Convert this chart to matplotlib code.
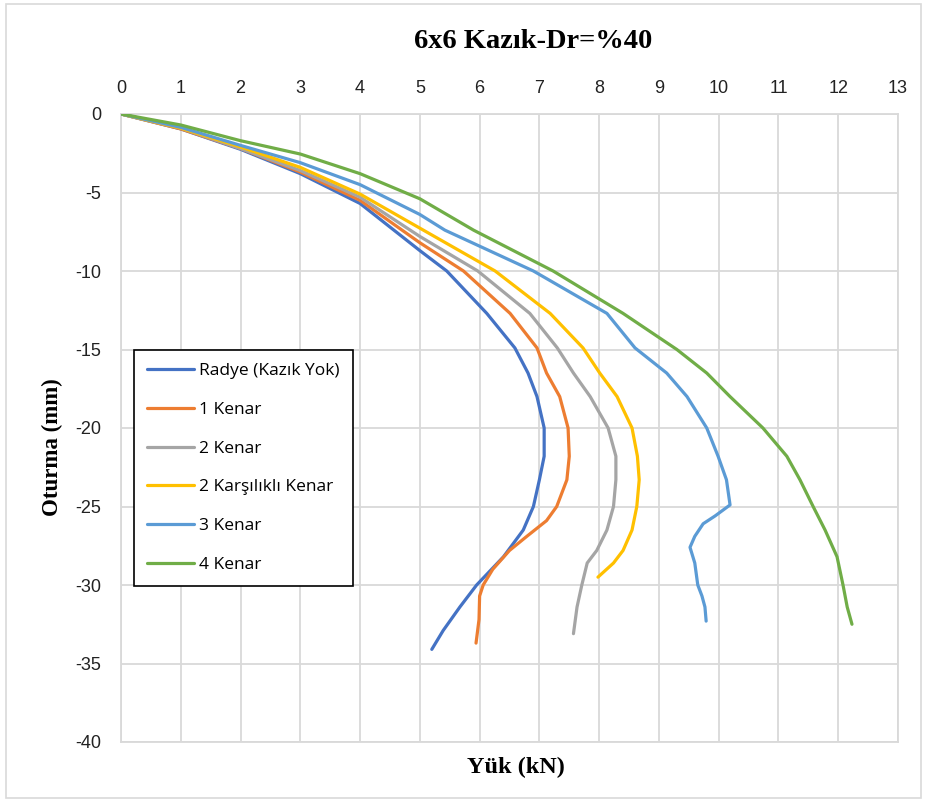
import matplotlib
matplotlib.use("Agg")
import matplotlib.pyplot as plt
from matplotlib import font_manager
from matplotlib.patches import Rectangle

plt.rcParams["axes.unicode_minus"] = False

# ---- data (Yük kN vs Oturma mm) ----
radye_x = [0, 1, 2, 3, 4, 5, 5.45, 6.12, 6.59, 6.81, 6.96, 7.08, 7.08, 7.0, 6.9, 6.73, 6.4, 5.95, 5.67, 5.39, 5.2]
radye_y = [0, -0.95, -2.25, -3.8, -5.7, -8.7, -10, -12.7, -14.9, -16.5, -18, -20, -21.8, -23.3, -25, -26.5, -28.2, -30, -31.4, -32.9, -34.1]

k1_x = [0, 1, 2, 3, 4, 5, 5.73, 6.51, 6.96, 7.12, 7.34, 7.48, 7.5, 7.46, 7.29, 7.12, 6.79, 6.5, 6.22, 6.06, 6.0, 5.99, 5.94]
k1_y = [0, -0.95, -2.2, -3.7, -5.5, -8.2, -10, -12.7, -14.9, -16.5, -18, -20, -21.8, -23.3, -25, -25.9, -26.9, -27.8, -29.0, -30, -30.7, -32.2, -33.7]

k2_x = [0, 1, 2, 3, 4, 5, 5.97, 6.84, 7.3, 7.57, 7.85, 8.15, 8.28, 8.28, 8.24, 8.13, 7.96, 7.8, 7.71, 7.63, 7.57]
k2_y = [0, -0.9, -2.2, -3.6, -5.3, -7.8, -10, -12.7, -14.9, -16.5, -18, -20, -21.8, -23.3, -25, -26.5, -27.8, -28.6, -30, -31.4, -33.1]

k2k_x = [0, 1, 2, 3, 4, 5.06, 6.26, 7.18, 7.73, 8.01, 8.3, 8.55, 8.64, 8.67, 8.63, 8.55, 8.4, 8.24, 7.98]
k2k_y = [0, -0.9, -2.1, -3.4, -5.1, -7.4, -10, -12.7, -14.9, -16.5, -18, -20, -21.8, -23.3, -25, -26.5, -27.8, -28.6, -29.5]

k3_x = [0, 1, 2, 3, 4, 5, 5.42, 6.9, 8.13, 8.6, 9.13, 9.47, 9.8, 9.99, 10.13, 10.19, 9.94, 9.74, 9.6, 9.52, 9.6, 9.65, 9.72, 9.77, 9.79]
k3_y = [0, -0.85, -2.0, -3.1, -4.5, -6.4, -7.4, -10, -12.7, -14.9, -16.5, -18, -20, -21.8, -23.3, -24.9, -25.6, -26.1, -26.9, -27.6, -28.6, -30, -30.7, -31.4, -32.3]

k4_x = [0, 1, 2, 3, 4, 5, 5.9, 7.23, 8.4, 9.3, 9.8, 10.19, 10.74, 11.14, 11.36, 11.58, 11.78, 11.98, 12.08, 12.15, 12.23]
k4_y = [0, -0.7, -1.7, -2.55, -3.8, -5.4, -7.4, -10, -12.7, -15, -16.5, -18, -20, -21.8, -23.3, -25, -26.5, -28.2, -30, -31.4, -32.5]

series_labels = ["Radye (Kazık Yok)", "1 Kenar", "2 Kenar", "2 Karşılıklı Kenar", "3 Kenar", "4 Kenar"]
series_colors = ["#4472C4", "#ED7D31", "#A5A5A5", "#FFC000", "#5B9BD5", "#70AD47"]
x_ticks = list(range(0, 14))
y_ticks = [0, -5, -10, -15, -20, -25, -30, -35, -40]

title_text = "6x6 Kazık-Dr=%40"
x_label = "Yük (kN)"
y_label = "Oturma (mm)"

# ---- fonts ----
avail = {f.name for f in font_manager.fontManager.ttflist}
def pick(*names):
    for n in names:
        if n in avail:
            return n
    return "DejaVu Sans"
tick_font = pick("Liberation Sans Narrow", "Liberation Sans", "DejaVu Sans")
legend_font = pick("Open Sans", "Noto Sans", "DejaVu Sans")
serif_font = pick("Liberation Serif", "DejaVu Serif")

fig = plt.figure(figsize=(9.27, 8.02), dpi=100)
ax = fig.add_axes([121/927, 1-742/802, 777/927, 628/802])

all_x = [radye_x, k1_x, k2_x, k2k_x, k3_x, k4_x]
all_y = [radye_y, k1_y, k2_y, k2k_y, k3_y, k4_y]
for xs, ys, lab, col in zip(all_x, all_y, series_labels, series_colors):
    ax.plot(xs, ys, color=col, lw=2.3, label=lab, zorder=3,
            solid_capstyle="round", solid_joinstyle="round")

ax.set_xlim(0, 13)
ax.set_ylim(-40, 0)
ax.set_xticks(x_ticks)
ax.set_yticks(y_ticks)
ax.xaxis.tick_top()
ax.tick_params(axis="both", length=0, labelsize=13, colors="#222222")
ax.tick_params(axis="x", pad=12)
ax.tick_params(axis="y", pad=14)
for lbl in ax.get_xticklabels() + ax.get_yticklabels():
    lbl.set_fontfamily(tick_font)
ax.grid(True, color="#D9D9D9", lw=1.3, zorder=0)
ax.set_axisbelow(True)
for s in ax.spines.values():
    s.set_color("#D9D9D9")
    s.set_linewidth(1.3)

leg = ax.legend(loc="upper left", bbox_to_anchor=(13/777, (742-350)/628),
                borderaxespad=0, frameon=True, fancybox=False,
                edgecolor="black", framealpha=1,
                prop={"family": legend_font, "size": 12.5},
                handlelength=2.7, handletextpad=0.3, labelspacing=1.3,
                borderpad=0.75)
leg.get_frame().set_linewidth(1.2)

fig.text(533/927, 1-41/802, title_text, ha="center", va="center",
         fontfamily=serif_font, fontweight="bold", fontsize=20.5)
fig.text(516/927, 1-767/802, x_label, ha="center", va="center",
         fontfamily=serif_font, fontweight="bold", fontsize=17.5)
fig.text(52/927, 1-447/802, y_label, ha="center", va="center", rotation=90,
         fontfamily=serif_font, fontweight="bold", fontsize=16.5)

fig.patches.append(Rectangle((6/927, 4/802), 1-12/927, 1-8/802, transform=fig.transFigure,
                             fill=False, edgecolor="#D9D9D9", lw=1.2))

fig.savefig("out.png", dpi=100)
